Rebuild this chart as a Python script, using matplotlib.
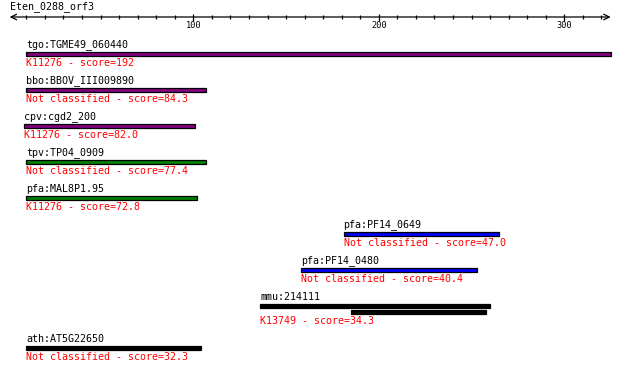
import matplotlib
matplotlib.use('Agg')
import matplotlib.pyplot as plt

# Данные
query = 'Eten_0288_orf3'
query_len = 325
genes = ['tgo:TGME49_060440', 'bbo:BBOV_III009890', 'cpv:cgd2_200', 'tpv:TP04_0909',
         'pfa:MAL8P1.95', 'pfa:PF14_0649', 'pfa:PF14_0480', 'mmu:214111', 'ath:AT5G22650']
orthologs = ['K11276', 'Not classified', 'K11276', 'Not classified', 'K11276',
             'Not classified', 'Not classified', 'K13749', 'Not classified']
scores = [192, 84.3, 82.0, 77.4, 72.8, 47.0, 40.4, 34.3, 32.3]
# участки выравнивания (start, end) для каждого гена
segments = [
    [(10, 325)],
    [(10, 107)],
    [(9, 101)],
    [(10, 107)],
    [(10, 102)],
    [(181, 265)],
    [(158, 253)],
    [(136, 260), (185, 258)],
    [(10, 104)],
]
bar_colors = ['#800080', '#800080', '#800080', '#008000', '#008000',
              '#0000ff', '#0000ff', '#000000', '#000000']

W, H = 620, 371
fig = plt.figure(figsize=(W / 100, H / 100), dpi=100)
ax = fig.add_axes([0, 0, 1, 1])
# масштаб: 1.855 px на позицию, ноль на 7.8 px
scale, x0 = 1.855, 7.8
ax.set_xlim(-x0 / scale, (W - x0) / scale)
ax.set_ylim(H, 0)
ax.axis('off')

font = 'DejaVu Sans Mono'

# Шкала
axis_y = 17
ax.text(1, 6.5, query, fontsize=7.2, family=font, va='center', ha='left')
ax.annotate('', xy=(query_len, axis_y), xytext=(1, axis_y),
            arrowprops=dict(arrowstyle='<->', lw=0.9, color='black',
                            mutation_scale=10, shrinkA=0, shrinkB=0))
for t in range(10, query_len, 10):
    if t % 100 == 0:
        ax.vlines(t, axis_y - 3.5, axis_y + 3.5, color='black', lw=0.9)
        ax.text(t, 26, str(t), fontsize=6.2, family=font, ha='center', va='center')
    else:
        ax.vlines(t, axis_y - 2.2, axis_y + 2.2, color='black', lw=0.9)

# Хиты
y = 45
for gene, ko, score, segs, col in zip(genes, orthologs, scores, segments, bar_colors):
    start = segs[0][0]
    ax.text(start, y, gene, fontsize=7.2, family=font, ha='left', va='center')
    by = y + 9
    for k, (s, e) in enumerate(segs):
        ax.barh(by + 6 * k, e - s, left=s, height=4.4, color=col,
                edgecolor='black', linewidth=0.9)
    by = by + 6 * (len(segs) - 1)
    score_txt = f'{score:.0f}' if score >= 100 else f'{score:.1f}'
    ax.text(start, by + 9, f'{ko} - score={score_txt}', fontsize=7.2, family=font,
            color='red', ha='left', va='center')
    y = by + 9 + 18

fig.savefig('out.png', dpi=100)
